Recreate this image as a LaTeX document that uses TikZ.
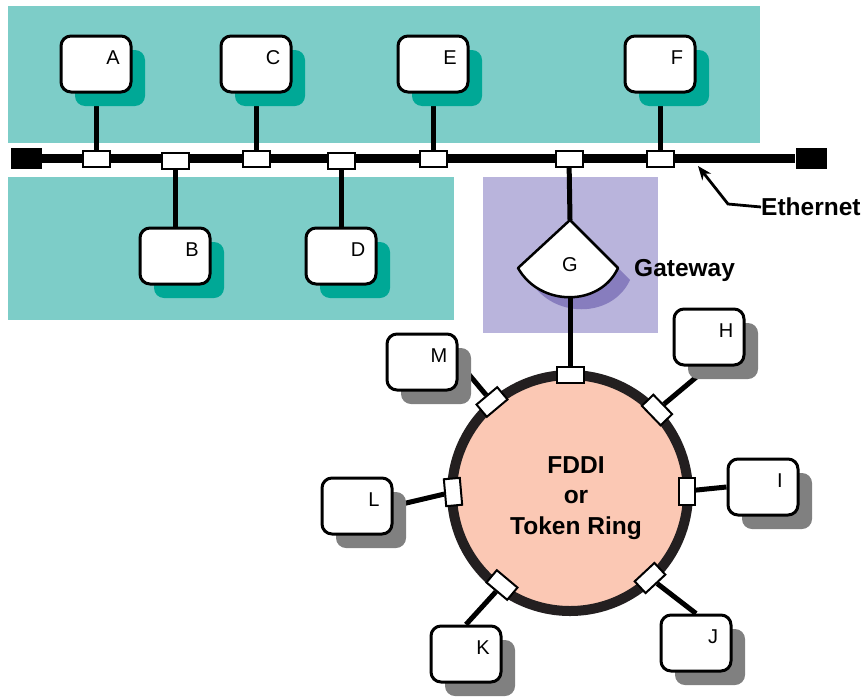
\documentclass[tikz,border=0pt]{standalone}
\usepackage{fontspec}
\setmainfont{Liberation Sans}
\usetikzlibrary{positioning, arrows.meta, backgrounds, shadows}

\definecolor{tealband}{RGB}{125,205,200}
\definecolor{tealshade}{RGB}{0,168,150}
\definecolor{gwband}{RGB}{185,180,220}
\definecolor{gwshade}{RGB}{135,125,190}
\definecolor{ringfill}{RGB}{251,200,180}
\definecolor{ringline}{RGB}{35,31,32}
\definecolor{greyshade}{RGB}{128,128,128}

\tikzset{
  box/.style={draw, line width=3pt, fill=white, rounded corners=10pt, minimum width=70pt, minimum height=56pt, inner sep=0pt},
  lanbox/.style={box, general shadow={fill=tealshade, shadow xshift=14pt, shadow yshift=-14pt}},
  ringbox/.style={box, general shadow={fill=greyshade, shadow xshift=14pt, shadow yshift=-14pt}},
  tag/.style={xshift=17pt, yshift=6pt, font=\fontsize{20}{23}\selectfont},
  tap/.style={draw, line width=2pt, fill=white, minimum width=27pt, minimum height=16pt, inner sep=0pt},
  endcap/.style={fill=black, minimum width=31pt, minimum height=21pt, inner sep=0pt},
  wire/.style={line width=5pt},
  bigbold/.style={font=\fontsize{24.5}{30.5}\selectfont\bfseries}
}

\begin{document}
\begin{tikzpicture}[x=1pt, y=-1pt]
  \useasboundingbox (0,0) rectangle (864,696);

  % Ethernet bus
  \node[endcap] (capL) at (26,158) {};
  \node[endcap] (capR) at (811,158) {};
  \draw[line width=9pt] (capL) -- (capR);

  % taps on the bus
  \node[tap] (tA) at (96,159) {};
  \node[tap] (tB) at (175,161) {};
  \node[tap] (tC) at (256,159) {};
  \node[tap] (tD) at (341,161) {};
  \node[tap] (tE) at (433,159) {};
  \node[tap] (tG) at (569,159) {};
  \node[tap] (tF) at (660,159) {};

  % stations on the Ethernet
  \node[lanbox, label={[tag]center:A}] (A) at (96,64) {};
  \node[lanbox, label={[tag]center:C}] (C) at (256,64) {};
  \node[lanbox, label={[tag]center:E}] (E) at (433,64) {};
  \node[lanbox, label={[tag]center:F}] (F) at (660,64) {};
  \node[lanbox, label={[tag]center:B}] (B) at (175,256) {};
  \node[lanbox, label={[tag]center:D}] (D) at (341,256) {};

  \node[bigbold, anchor=west, inner sep=0pt] (eth) at (761,207) {Ethernet};
  \coordinate (ethbend) at (728,204);
  \coordinate (ethtip) at (698,166);
  \draw[line width=2.8pt, -{Stealth[length=14pt, width=11pt]}] (eth.west) -- (ethbend) -- (ethtip);

  % gateway
  \filldraw[fill=white, line width=2.5pt, line join=round] (570,220) -- (518,268) .. controls (540,307) and (600,307) .. (618,268) -- cycle;
  \coordinate (Gtop) at (570,220);
  \coordinate (Gbot) at (570,297);
  \node[font=\fontsize{20}{23}\selectfont] (G) at (570,265) {G};
  \node[bigbold, anchor=west, inner sep=0pt] (gw) at (634,270) {Gateway};

  % FDDI ring
  \node[circle, draw=ringline, line width=10pt, fill=ringfill, minimum size=236pt, inner sep=0pt] (ring) at (570,493) {};
  \node[bigbold, align=center] (ringlbl) at (576,498) {FDDI\\or\\Token Ring};

  % taps on the ring
  \node[tap] (tR) at (570,375) {};
  \node[tap, rotate=-46] (tH) at (657,410) {};
  \node[tap, rotate=90] (tI) at (687,491) {};
  \node[tap, rotate=43] (tJ) at (650,578) {};
  \node[tap, rotate=-40] (tK) at (502,585) {};
  \node[tap, rotate=95] (tL) at (453,492) {};
  \node[tap, rotate=40] (tM) at (492,402) {};

  % stations on the ring
  \node[ringbox, label={[tag]center:M}] (M) at (422,362) {};
  \node[ringbox, label={[tag]center:H}] (H) at (709,337) {};
  \node[ringbox, label={[tag]center:I}] (I) at (763,487) {};
  \node[ringbox, label={[tag]center:J}] (J) at (696,643) {};
  \node[ringbox, label={[tag]center:K}] (K) at (466,654) {};
  \node[ringbox, label={[tag]center:L}] (L) at (357,506) {};

  \begin{pgfonlayer}{background}
    \fill[tealband] (8,6) rectangle (760,143);
    \fill[tealband] (8,177) rectangle (454,320);
    \fill[gwband] (483,177) rectangle (658,333);
    \fill[gwshade, shift={(12,12)}] (570,220) -- (518,268) .. controls (540,307) and (600,307) .. (618,268) -- cycle;

    \draw[wire] (A.south) -- (tA);
    \draw[wire] (C.south) -- (tC);
    \draw[wire] (E.south) -- (tE);
    \draw[wire] (F.south) -- (tF);
    \draw[wire] (B.north) -- (tB);
    \draw[wire] (D.north) -- (tD);
    \draw[wire] (tG) -- (Gtop);
    \draw[wire] (Gbot) -- (tR);

    \draw[wire] (M.east) -- (tM);
    \draw[wire] (H.south) -- (tH);
    \draw[wire] (I.west) -- (tI);
    \draw[wire] (J.north) -- (tJ);
    \draw[wire] (K.north) -- (tK);
    \draw[wire] (L.east) -- (tL);
  \end{pgfonlayer}
\end{tikzpicture}
\end{document}
